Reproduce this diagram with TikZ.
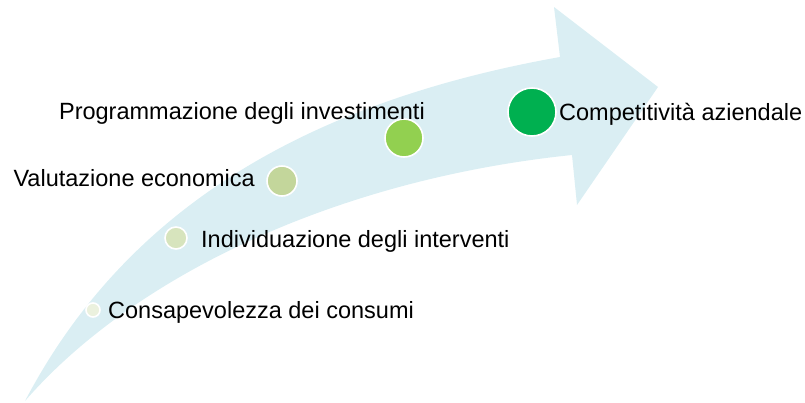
\documentclass[tikz,border=0pt]{standalone}
\usepackage{fontspec}
\setmainfont{Liberation Sans}
\definecolor{arrowblue}{HTML}{DAEEF3}
\definecolor{cA}{HTML}{EBF1DE}
\definecolor{cB}{HTML}{D7E4BD}
\definecolor{cC}{HTML}{C3D69B}
\definecolor{cD}{HTML}{92D050}
\definecolor{cE}{HTML}{00B050}
\tikzset{
  dot/.style={circle, draw=white, line width=1.6pt, inner sep=0pt},
  lbl/.style={inner sep=0pt, font=\fontsize{23.5}{26}\selectfont, text=black},
}
\begin{document}
\begin{tikzpicture}[x=1pt,y=-1pt]
\useasboundingbox (0,0) rectangle (805,402);
% curved arrow
\fill[arrowblue] (25,401) .. controls (120,220) and (290,105) .. (560,57)
  -- (554,7) -- (658,87) -- (577,205) -- (572,155)
  .. controls (330,180) and (130,280) .. (25,401) -- cycle;
% dots
\node[dot, fill=cA, minimum size=14pt] (d1) at (93,310) {};
\node[dot, fill=cB, minimum size=22pt] (d2) at (176,238) {};
\node[dot, fill=cC, minimum size=30pt] (d3) at (282,181) {};
\node[dot, fill=cD, minimum size=38pt] (d4) at (404,138) {};
\node[dot, fill=cE, minimum size=48pt] (d5) at (532,112) {};
% labels
\node[lbl, anchor=base west] (t1) at (108,318) {Consapevolezza dei consumi};
\node[lbl, anchor=base west] (t2) at (201,247) {Individuazione degli interventi};
\node[lbl, anchor=base east] (t3) at (255,186) {Valutazione economica};
\node[lbl, anchor=base east] (t4) at (425,119) {Programmazione degli investimenti};
\node[lbl, anchor=base west] (t5) at (559,120) {Competitività aziendale};
\end{tikzpicture}
\end{document}
